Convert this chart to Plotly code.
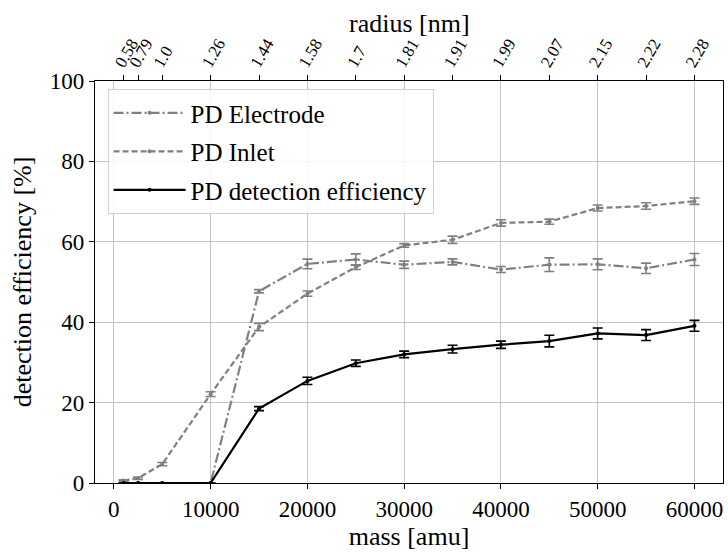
import plotly.graph_objects as go

mass = [1000, 2500, 5000, 10000, 15000, 20000, 25000, 30000, 35000,
        40000, 45000, 50000, 55000, 60000]
radius_labels = ["0.58", "0.79", "1.0", "1.26", "1.44", "1.58", "1.7", "1.81",
                 "1.91", "1.99", "2.07", "2.15", "2.22", "2.28"]

electrode = [0, 0, 0, 0, 47.7, 54.5, 55.6, 54.3, 55.0, 53.1, 54.3, 54.4, 53.4, 55.6]
electrode_err = [0, 0, 0, 0, 0.4, 1.2, 1.4, 0.9, 0.75, 0.75, 1.7, 1.35, 1.3, 1.5]

inlet = [0.6, 1.2, 4.7, 22.1, 38.8, 47.1, 53.7, 59.1, 60.5, 64.7, 65.0, 68.4, 68.9, 70.1]
inlet_err = [0.2, 0.3, 0.4, 0.6, 0.9, 0.65, 0.6, 0.45, 0.9, 0.8, 0.65, 0.75, 0.8, 0.8]

detection = [0, 0, 0, 0, 18.5, 25.4, 29.8, 32.0, 33.3, 34.4, 35.3, 37.2, 36.8, 39.1]
detection_err = [0, 0, 0, 0, 0.5, 0.9, 0.8, 0.8, 0.95, 0.9, 1.45, 1.35, 1.35, 1.35]

FONT = "Liberation Serif, Times New Roman, serif"
GRAY = "#808080"

def f(size):
    return dict(family=FONT, size=size, color="black")

fig = go.Figure()

def add(y, err, name, color, dash, grp):
    fig.add_trace(go.Scatter(
        x=mass, y=y, name=name, mode="lines+markers", legendgroup=grp,
        line=dict(color=color, width=2.2, dash=dash),
        marker=dict(color=color, size=4),
        error_y=dict(type="data", array=err, visible=True, color=color,
                     thickness=1.6, width=5),
    ))

add(electrode, electrode_err, "PD Electrode", GRAY, "10px,3px,2px,3px", "a")
add(inlet, inlet_err, "PD Inlet", GRAY, "6px,3px", "b")
add(detection, detection_err, "PD detection efficiency", "black", "solid", "c")

# invisible trace to activate the top (radius) axis
fig.add_trace(go.Scatter(x=mass, y=detection, xaxis="x2", mode="markers",
                         marker=dict(opacity=0), showlegend=False,
                         hoverinfo="skip"))

xr = [-1950, 62950]
common = dict(ticks="outside", ticklen=5, tickcolor="black", tickwidth=1.2,
              showline=True, linecolor="black", linewidth=1.3,
              zeroline=False, automargin=False)
fig.update_layout(
    width=728, height=554,
    margin=dict(l=95, r=5, t=81, b=71, autoexpand=False),
    plot_bgcolor="white", paper_bgcolor="white",
    font=f(22),
    showlegend=True,
    legend=dict(x=0.02, y=0.98, xanchor="left", yanchor="top",
                bgcolor="rgba(255,255,255,0.85)", bordercolor="#d0d0d0",
                borderwidth=1, font=f(25), itemwidth=72,
                traceorder="grouped", tracegroupgap=3),
    xaxis=dict(range=xr, tickvals=[0, 10000, 20000, 30000, 40000, 50000, 60000],
               tickformat="d", showgrid=True, gridcolor="#c4c4c4", gridwidth=1,
               tickfont=f(23),
               title=dict(text="mass [amu]", font=f(26), standoff=4), **common),
    xaxis2=dict(range=xr, overlaying="x", side="top", tickvals=mass,
                ticktext=radius_labels, tickangle=-60, ticklabelshift=-7,
                ticklabelstandoff=-5,
                showgrid=False, tickfont=f(17), **common),
    yaxis=dict(range=[0, 100], tickvals=[0, 20, 40, 60, 80, 100], mirror=True,
               showgrid=True, gridcolor="#c4c4c4", gridwidth=1,
               tickfont=f(23),
               title=dict(text="detection efficiency [%]", font=f(26),
                          standoff=10), **common),
    annotations=[dict(text="radius [nm]", xref="paper", yref="paper",
                      x=0.5, y=(482.7 - 23) / 402, xanchor="center",
                      yanchor="middle", showarrow=False, font=f(26))],
)

fig.write_html("out.html", config={"displayModeBar": False},
               post_script="document.body.style.margin='0';"
                           "document.body.style.padding='0';")
